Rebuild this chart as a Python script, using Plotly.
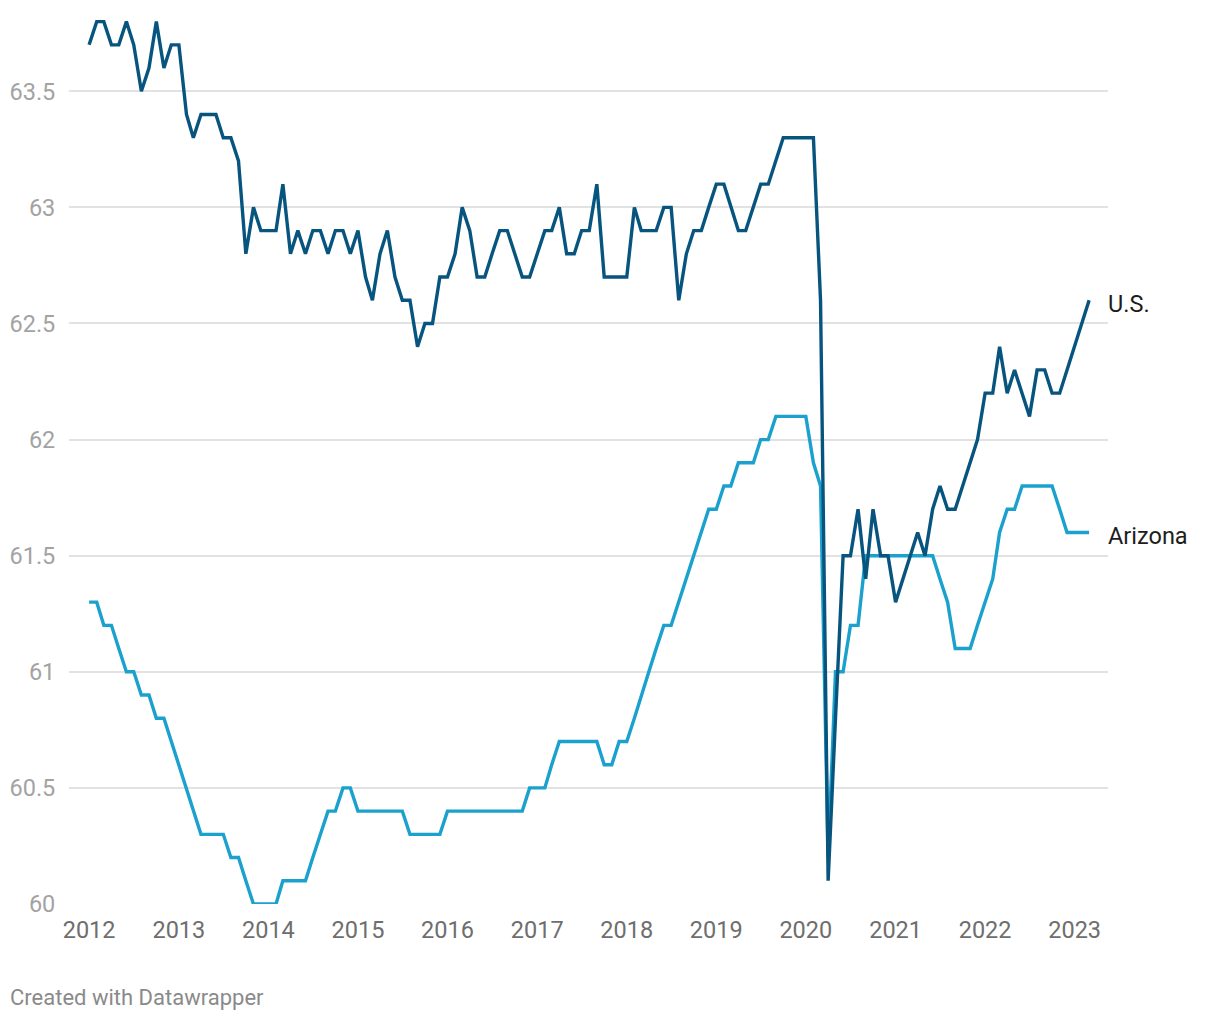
import pandas as pd
import plotly.graph_objects as go

months = pd.date_range("2012-01-01", "2023-03-01", freq="MS")

us = [
    63.7, 63.8, 63.8, 63.7, 63.7, 63.8, 63.7, 63.5, 63.6, 63.8, 63.6, 63.7,
    63.7, 63.4, 63.3, 63.4, 63.4, 63.4, 63.3, 63.3, 63.2, 62.8, 63.0, 62.9,
    62.9, 62.9, 63.1, 62.8, 62.9, 62.8, 62.9, 62.9, 62.8, 62.9, 62.9, 62.8,
    62.9, 62.7, 62.6, 62.8, 62.9, 62.7, 62.6, 62.6, 62.4, 62.5, 62.5, 62.7,
    62.7, 62.8, 63.0, 62.9, 62.7, 62.7, 62.8, 62.9, 62.9, 62.8, 62.7, 62.7,
    62.8, 62.9, 62.9, 63.0, 62.8, 62.8, 62.9, 62.9, 63.1, 62.7, 62.7, 62.7,
    62.7, 63.0, 62.9, 62.9, 62.9, 63.0, 63.0, 62.6, 62.8, 62.9, 62.9, 63.0,
    63.1, 63.1, 63.0, 62.9, 62.9, 63.0, 63.1, 63.1, 63.2, 63.3, 63.3, 63.3,
    63.3, 63.3, 62.6, 60.1, 60.8, 61.5, 61.5, 61.7, 61.4, 61.7, 61.5, 61.5,
    61.3, 61.4, 61.5, 61.6, 61.5, 61.7, 61.8, 61.7, 61.7, 61.8, 61.9, 62.0,
    62.2, 62.2, 62.4, 62.2, 62.3, 62.2, 62.1, 62.3, 62.3, 62.2, 62.2, 62.3,
    62.4, 62.5, 62.6,
]

arizona = [
    61.3, 61.3, 61.2, 61.2, 61.1, 61.0, 61.0, 60.9, 60.9, 60.8, 60.8, 60.7,
    60.6, 60.5, 60.4, 60.3, 60.3, 60.3, 60.3, 60.2, 60.2, 60.1, 60.0, 60.0,
    60.0, 60.0, 60.1, 60.1, 60.1, 60.1, 60.2, 60.3, 60.4, 60.4, 60.5, 60.5,
    60.4, 60.4, 60.4, 60.4, 60.4, 60.4, 60.4, 60.3, 60.3, 60.3, 60.3, 60.3,
    60.4, 60.4, 60.4, 60.4, 60.4, 60.4, 60.4, 60.4, 60.4, 60.4, 60.4, 60.5,
    60.5, 60.5, 60.6, 60.7, 60.7, 60.7, 60.7, 60.7, 60.7, 60.6, 60.6, 60.7,
    60.7, 60.8, 60.9, 61.0, 61.1, 61.2, 61.2, 61.3, 61.4, 61.5, 61.6, 61.7,
    61.7, 61.8, 61.8, 61.9, 61.9, 61.9, 62.0, 62.0, 62.1, 62.1, 62.1, 62.1,
    62.1, 61.9, 61.8, 60.2, 61.0, 61.0, 61.2, 61.2, 61.5, 61.5, 61.5, 61.5,
    61.5, 61.5, 61.5, 61.5, 61.5, 61.5, 61.4, 61.3, 61.1, 61.1, 61.1, 61.2,
    61.3, 61.4, 61.6, 61.7, 61.7, 61.8, 61.8, 61.8, 61.8, 61.8, 61.7, 61.6,
    61.6, 61.6, 61.6,
]

series_names = ["U.S.", "Arizona"]
series_colors = ["#07557e", "#1ba1cd"]

year_ticks = [f"{y}-01-01" for y in range(2012, 2024)]
year_labels = [str(y) for y in range(2012, 2024)]
y_ticks = [60, 60.5, 61, 61.5, 62, 62.5, 63, 63.5]
y_labels = ["60", "60.5", "61", "61.5", "62", "62.5", "63", "63.5"]

fig = go.Figure()
for name, vals, col in [(series_names[1], arizona, series_colors[1]),
                        (series_names[0], us, series_colors[0])]:
    fig.add_trace(go.Scatter(
        x=months, y=vals, mode="lines", name=name,
        line=dict(color=col, width=3.4), hoverinfo="skip",
    ))

for name, vals in [(series_names[0], us), (series_names[1], arizona)]:
    fig.add_annotation(
        x=months[-1], y=vals[-1], text=name, showarrow=False,
        xanchor="left", yanchor="middle", xshift=17, yshift=-4,
        font=dict(family="Roboto", size=23.5, color="#1d1d1d"),
    )

fig.add_annotation(
    x=0, y=0, xref="paper", yref="paper", text="Created with Datawrapper",
    showarrow=False, xanchor="left", yanchor="bottom",
    xshift=-61, yshift=-108,
    font=dict(family="Roboto", size=22, color="#8a8a8a"),
)

fig.update_layout(
    width=1204, height=1004,
    margin=dict(l=61, r=104, t=2, b=108),
    paper_bgcolor="white", plot_bgcolor="white",
    showlegend=False,
    font=dict(family="Roboto"),
)
fig.update_xaxes(
    type="date",
    range=["2011-10-11", "2023-05-17"],
    tickvals=year_ticks, ticktext=year_labels,
    showgrid=False, zeroline=False, showline=False,
    ticks="outside", ticklen=5, tickcolor="rgba(0,0,0,0)",
    tickfont=dict(family="Roboto", size=23.5, color="#6e6e6e"),
)
fig.update_yaxes(
    range=[60, 63.85],
    tickvals=y_ticks, ticktext=y_labels,
    showgrid=True, gridcolor="#e2e2e2", gridwidth=1.5,
    zeroline=False, showline=False,
    ticks="outside", ticklen=8, tickcolor="rgba(0,0,0,0)",
    tickfont=dict(family="Roboto", size=23.5, color="#a3a3a3"),
)

fig.write_html("out.html")
